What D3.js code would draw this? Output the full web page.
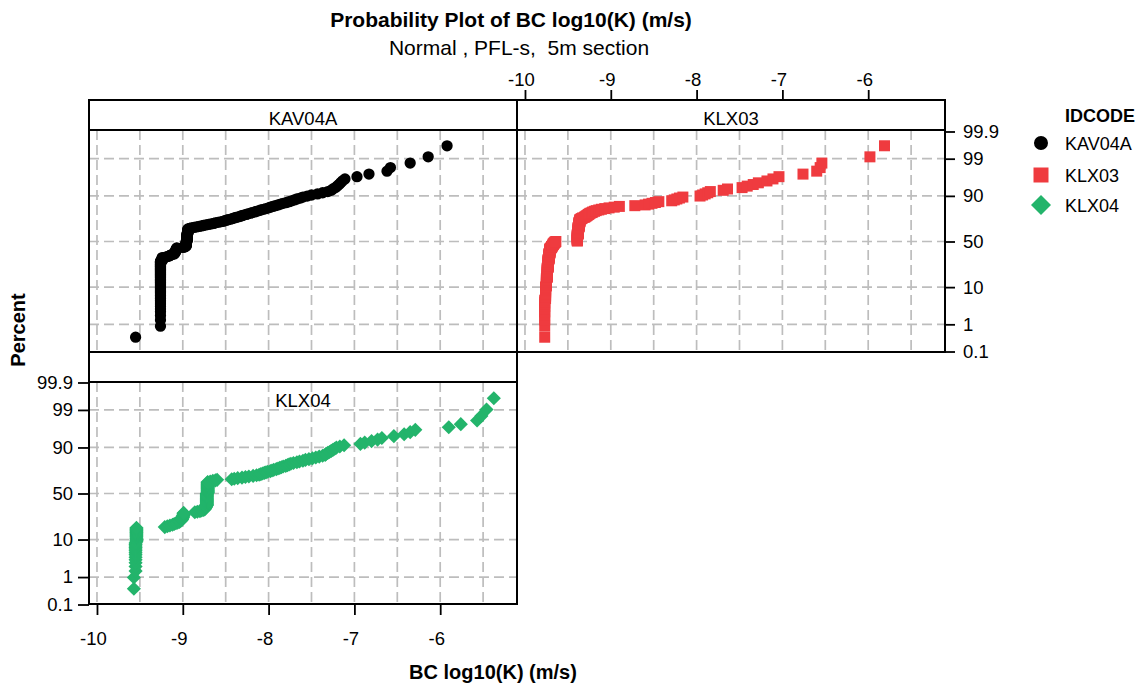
<!DOCTYPE html>
<html>
<head>
<meta charset="utf-8">
<script src="https://cdnjs.cloudflare.com/ajax/libs/d3/7.8.5/d3.min.js"></script>
<style>
  body { margin: 0; background: #fff; }
  svg { font-family: "Liberation Sans", Arial, sans-serif; }
</style>
</head>
<body>
<svg width="1141" height="688"></svg>
<script>
// Groups (IDCODE) and their colours
var categories = ["KAV04A", "KLX03", "KLX04"];
var colors = ["#000000", "#EF3B3F", "#23B46B"];

// BC log10(K) values per group, sorted
var kav04a = [-9.55,
  -9.24, -9.24, -9.24, -9.24, -9.24, -9.24, -9.24,
  -9.26, -9.26, -9.26, -9.26, -9.26, -9.26, -9.26, -9.26, -9.26, -9.26, -9.26, -9.26, -9.26, -9.26,
  -9.26, -9.26, -9.26, -9.26, -9.26, -9.26, -9.26, -9.26, -9.26, -9.26, -9.26, -9.26, -9.26, -9.26,
  -9.26, -9.26, -9.26, -9.26, -9.26, -9.26, -9.26, -9.26, -9.26, -9.26, -9.26, -9.26, -9.26, -9.26,
  -9.26, -9.26, -9.26, -9.26, -9.26, -9.26, -9.26, -9.26, -9.26, -9.26, -9.26, -9.26, -9.26, -9.26,
  -9.20, -9.18, -9.16, -9.15, -9.14, -9.13,
  -9.10, -9.10, -9.10, -9.09, -9.09, -9.09, -9.08, -9.08, -9.08, -9.08, -9.07, -9.07, -9.07, -9.07,
  -9.00, -8.98, -8.97, -8.96,
  -8.96, -8.96, -8.96, -8.96, -8.96, -8.96, -8.96, -8.96, -8.96, -8.96,
  -8.95, -8.95, -8.95, -8.95, -8.95, -8.95, -8.95, -8.95, -8.95, -8.95, -8.95, -8.95, -8.95, -8.95, -8.95, -8.95, -8.95,
  -8.94, -8.94, -8.94, -8.94, -8.94, -8.94, -8.94, -8.94, -8.94, -8.94,
  -8.92, -8.90, -8.87, -8.84,
  -8.81, -8.78, -8.76, -8.73, -8.70, -8.67, -8.64, -8.62, -8.59, -8.56,
  -8.53, -8.51, -8.49, -8.47, -8.44, -8.42, -8.40, -8.38, -8.35, -8.33,
  -8.31, -8.29, -8.26, -8.24, -8.21, -8.19, -8.16, -8.14, -8.11, -8.09,
  -8.06, -8.03, -8.00, -7.98, -7.95, -7.92, -7.89, -7.86, -7.83, -7.79,
  -7.76, -7.73, -7.70, -7.67, -7.63, -7.60, -7.55, -7.50, -7.43, -7.37,
  -7.31, -7.27, -7.25, -7.22, -7.20, -7.18, -7.16, -7.14, -7.11,
  -6.97, -6.83, -6.62, -6.58, -6.35, -6.14, -5.92];

var klx03 = [-9.77,
  -9.77, -9.77, -9.77, -9.77, -9.77, -9.77, -9.77, -9.77, -9.77,
  -9.76, -9.76, -9.76, -9.76, -9.76, -9.76, -9.76, -9.76, -9.76, -9.76,
  -9.75, -9.75, -9.75, -9.75, -9.75, -9.75, -9.75, -9.75, -9.75, -9.75,
  -9.74, -9.74, -9.74, -9.74, -9.74, -9.74, -9.74, -9.74, -9.74, -9.74, -9.74, -9.74, -9.74, -9.74, -9.74,
  -9.73, -9.73, -9.73, -9.73, -9.73, -9.73, -9.73, -9.73, -9.73, -9.73, -9.73, -9.73, -9.73, -9.73, -9.73,
  -9.72, -9.72, -9.72, -9.72, -9.72, -9.72, -9.72, -9.72, -9.72, -9.72, -9.72, -9.72,
  -9.71, -9.71, -9.71, -9.71, -9.71, -9.71, -9.71, -9.71, -9.71, -9.71,
  -9.70, -9.70, -9.69, -9.69, -9.69, -9.68, -9.68, -9.68,
  -9.67, -9.67, -9.67, -9.66, -9.66, -9.65, -9.65, -9.64,
  -9.39, -9.39, -9.39, -9.39, -9.39, -9.39, -9.39, -9.39, -9.39, -9.39, -9.39, -9.39, -9.39, -9.39, -9.39,
  -9.38, -9.38, -9.38, -9.38, -9.38, -9.38, -9.38, -9.38, -9.38, -9.38, -9.38, -9.38, -9.38, -9.38, -9.38,
  -9.37, -9.37, -9.37, -9.37, -9.37, -9.37, -9.37, -9.37, -9.37, -9.37,
  -9.36, -9.36, -9.36, -9.36, -9.36,
  -9.35, -9.34, -9.33, -9.31, -9.30, -9.29, -9.28, -9.27, -9.26, -9.25,
  -9.24, -9.22, -9.21, -9.19, -9.17, -9.14, -9.11, -9.07, -9.02, -8.96,
  -8.90,
  -8.72,
  -8.60, -8.56, -8.52, -8.48, -8.44,
  -8.29, -8.26, -8.23, -8.20, -8.16,
  -7.96, -7.93, -7.90, -7.87, -7.84,
  -7.69, -7.64,
  -7.47, -7.41, -7.34, -7.28,
  -7.18, -7.11, -7.04,
  -6.76,
  -6.60, -6.56, -6.54,
  -5.98, -5.81];

var klx04 = [-9.57, -9.57, -9.55,
  -9.55, -9.55, -9.55, -9.55, -9.55, -9.55, -9.55, -9.55, -9.55, -9.55, -9.55, -9.55,
  -9.54, -9.54, -9.54, -9.54, -9.54, -9.54, -9.54, -9.54, -9.54, -9.54, -9.54, -9.54, -9.54, -9.54, -9.54,
  -9.21, -9.18, -9.15, -9.12, -9.10, -9.08, -9.06, -9.04, -9.03, -9.02,
  -9.01, -9.01, -9.01, -9.00, -9.00, -9.00, -9.00, -8.99, -8.99, -8.99, -8.99, -8.99,
  -8.86, -8.83, -8.80, -8.78, -8.76, -8.75,
  -8.74, -8.74, -8.74, -8.73, -8.73, -8.73,
  -8.72, -8.72, -8.72, -8.72, -8.72, -8.72, -8.72, -8.72, -8.72, -8.72, -8.72, -8.72,
  -8.72, -8.72, -8.72, -8.72, -8.72, -8.72, -8.72, -8.72, -8.72, -8.72, -8.72, -8.72,
  -8.71, -8.71, -8.71, -8.71, -8.71, -8.71, -8.71, -8.71, -8.71, -8.71, -8.71,
  -8.71, -8.71, -8.71, -8.71, -8.71, -8.71, -8.71, -8.71, -8.71, -8.71, -8.71,
  -8.68, -8.65, -8.62, -8.60,
  -8.43, -8.40, -8.36, -8.31, -8.27, -8.23, -8.18, -8.14, -8.11, -8.09,
  -8.07, -8.05, -8.03, -8.01, -7.98, -7.96, -7.94, -7.91, -7.89, -7.87,
  -7.85, -7.83, -7.80, -7.78, -7.76, -7.74, -7.71, -7.67, -7.64, -7.60,
  -7.57, -7.53, -7.49, -7.45, -7.41, -7.37, -7.34, -7.33, -7.31, -7.29,
  -7.27, -7.25, -7.23, -7.21, -7.17, -7.12,
  -6.93, -6.88, -6.80, -6.73, -6.68, -6.54, -6.42, -6.35, -6.29,
  -5.90, -5.76, -5.57, -5.52, -5.46, -5.375];

var seriesValues = [kav04a, klx03, klx04];

// Axis ticks
var xTicks = [-10, -9, -8, -7, -6];
var xGrid = [-10, -9.5, -9, -8.5, -8, -7.5, -7, -6.5, -6, -5.5];
var percentTicks = [0.1, 1, 10, 50, 90, 99, 99.9];
var percentGrid = [1, 10, 50, 90, 99];

// Layout of the panel grid
var colLeft = [89, 517];
var panelW = 428;
var rows = [
  { top: 100, plotTop: 130, plotBottom: 352, yTop: 131.5, yBottom: 351.5 },
  { top: 352, plotTop: 382, plotBottom: 604, yTop: 382.5, yBottom: 604.5 }
];
var panelPos = [
  { col: 0, row: 0, labelY: 124.5 },
  { col: 1, row: 0, labelY: 124.5 },
  { col: 0, row: 1, labelY: 406.5 }
];
var markerShapes = [d3.symbolCircle, d3.symbolSquare, d3.symbolSquare];
var markerSizes = [100, 121, 100];
var markerRotate = [0, 0, 45];
var legendSizes = [154, 225, 200];

// Inverse of the standard normal CDF (Acklam)
function probit(p) {
  var a = [-3.969683028665376e+01, 2.209460984245205e+02, -2.759285104469687e+02, 1.383577518672690e+02, -3.066479806614716e+01, 2.506628277459239e+00];
  var b = [-5.447609879822406e+01, 1.615858368580409e+02, -1.556989798598866e+02, 6.680131188771972e+01, -1.328068155288572e+01];
  var c = [-7.784894002430293e-03, -3.223964580411365e-01, -2.400758277161838e+00, -2.549732539343734e+00, 4.374664141464968e+00, 2.938163982698783e+00];
  var d = [7.784695709041462e-03, 3.224671290700398e-01, 2.445134137142996e+00, 3.754408661907416e+00];
  var pl = 0.02425, q, r;
  if (p < pl) {
    q = Math.sqrt(-2 * Math.log(p));
    return (((((c[0] * q + c[1]) * q + c[2]) * q + c[3]) * q + c[4]) * q + c[5]) / ((((d[0] * q + d[1]) * q + d[2]) * q + d[3]) * q + 1);
  }
  if (p > 1 - pl) {
    q = Math.sqrt(-2 * Math.log(1 - p));
    return -(((((c[0] * q + c[1]) * q + c[2]) * q + c[3]) * q + c[4]) * q + c[5]) / ((((d[0] * q + d[1]) * q + d[2]) * q + d[3]) * q + 1);
  }
  q = p - 0.5;
  r = q * q;
  return (((((a[0] * r + a[1]) * r + a[2]) * r + a[3]) * r + a[4]) * r + a[5]) * q / (((((b[0] * r + b[1]) * r + b[2]) * r + b[3]) * r + b[4]) * r + 1);
}

// Median rank plotting positions (i - 0.3) / (n + 0.4)
function probPoints(values) {
  var sorted = values.slice().sort(d3.ascending);
  var n = sorted.length;
  return sorted.map(function (v, i) {
    return { x: v, z: probit((i + 1 - 0.3) / (n + 0.4)) };
  });
}

var svg = d3.select("svg");

// Titles
svg.append("text").attr("x", 511).attr("y", 27).attr("text-anchor", "middle")
  .style("font-size", "21px").style("font-weight", "bold")
  .text("Probability Plot of BC log10(K) (m/s)");
svg.append("text").attr("x", 519).attr("y", 55).attr("text-anchor", "middle")
  .style("font-size", "21px").style("white-space", "pre")
  .text("Normal , PFL-s,  5m section");

var scales = [];

categories.forEach(function (name, k) {
  var pos = panelPos[k];
  var row = rows[pos.row];
  var left = colLeft[pos.col];

  var x = d3.scaleLinear().domain([-10.093, -5.105]).range([left, left + panelW]);
  var y = d3.scaleLinear().domain([-3.09, 3.09]).range([row.yBottom, row.yTop]);
  scales.push({ x: x, y: y });

  var g = svg.append("g");

  // Dashed grid
  g.selectAll(".vgrid").data(xGrid).enter().append("line")
    .attr("x1", d => x(d)).attr("x2", d => x(d))
    .attr("y1", row.plotTop).attr("y2", row.plotBottom)
    .attr("stroke", "#bdbdbd").attr("stroke-width", 1.7).attr("stroke-dasharray", "10,5");
  g.selectAll(".hgrid").data(percentGrid).enter().append("line")
    .attr("x1", left).attr("x2", left + panelW)
    .attr("y1", d => y(probit(d / 100))).attr("y2", d => y(probit(d / 100)))
    .attr("stroke", "#bdbdbd").attr("stroke-width", 1.7).attr("stroke-dasharray", "10,5");

  // Points
  var sym = d3.symbol().type(markerShapes[k]).size(markerSizes[k]);
  g.selectAll(".pt").data(probPoints(seriesValues[k])).enter().append("path")
    .attr("d", sym)
    .attr("transform", d => "translate(" + x(d.x) + "," + y(d.z) + ") rotate(" + markerRotate[k] + ")")
    .attr("fill", colors[k]);

  // Frame and strip
  g.append("rect").attr("x", left).attr("y", row.top).attr("width", panelW).attr("height", row.plotBottom - row.top)
    .attr("fill", "none").attr("stroke", "#000").attr("stroke-width", 2);
  g.append("line").attr("x1", left).attr("x2", left + panelW).attr("y1", row.plotTop).attr("y2", row.plotTop)
    .attr("stroke", "#000").attr("stroke-width", 2);
  g.append("text").attr("x", left + panelW / 2).attr("y", pos.labelY).attr("text-anchor", "middle")
    .style("font-size", "18.5px").text(name);
});

// Axes
function styleAxis(sel) {
  sel.select(".domain").remove();
  sel.selectAll(".tick line").attr("stroke", "#000").attr("stroke-width", 1.8);
  sel.selectAll(".tick text").style("font-size", "18.5px").attr("fill", "#000")
    .style("font-family", "'Liberation Sans', Arial, sans-serif");
}
var fmtX = d => String(d);
var fmtP = d => String(d);

svg.append("g").attr("transform", "translate(0,100)")
  .call(d3.axisTop(scales[1].x).tickValues(xTicks).tickFormat(fmtX).tickSize(10).tickPadding(4))
  .call(styleAxis)
  .selectAll(".tick text").attr("dx", "-4");

svg.append("g").attr("transform", "translate(0,604)")
  .call(d3.axisBottom(scales[2].x).tickValues(xTicks).tickFormat(fmtX).tickSize(11).tickPadding(17))
  .call(styleAxis)
  .selectAll(".tick text").attr("dx", "-4");

svg.append("g").attr("transform", "translate(945,0)")
  .call(d3.axisRight(scales[1].y).tickValues(percentTicks.map(p => probit(p / 100)))
    .tickFormat((d, i) => fmtP(percentTicks[i])).tickSize(10).tickPadding(8))
  .call(styleAxis);

svg.append("g").attr("transform", "translate(89,0)")
  .call(d3.axisLeft(scales[2].y).tickValues(percentTicks.map(p => probit(p / 100)))
    .tickFormat((d, i) => fmtP(percentTicks[i])).tickSize(11).tickPadding(5))
  .call(styleAxis);

// Axis titles
svg.append("text").attr("x", 493).attr("y", 679).attr("text-anchor", "middle")
  .style("font-size", "20px").style("font-weight", "bold").text("BC log10(K) (m/s)");
svg.append("text").attr("transform", "translate(25,330) rotate(-90)").attr("text-anchor", "middle")
  .style("font-size", "20px").style("font-weight", "bold").text("Percent");

// Legend
svg.append("text").attr("x", 1065).attr("y", 121.5)
  .style("font-size", "18px").style("font-weight", "bold").text("IDCODE");
var legendY = [143, 175, 205];
categories.forEach(function (name, k) {
  svg.append("path")
    .attr("d", d3.symbol().type(markerShapes[k]).size(legendSizes[k]))
    .attr("transform", "translate(1041," + legendY[k] + ") rotate(" + markerRotate[k] + ")")
    .attr("fill", colors[k]);
  svg.append("text").attr("x", 1065).attr("y", legendY[k] + 7)
    .style("font-size", "18px").text(name);
});
</script>
</body>
</html>
